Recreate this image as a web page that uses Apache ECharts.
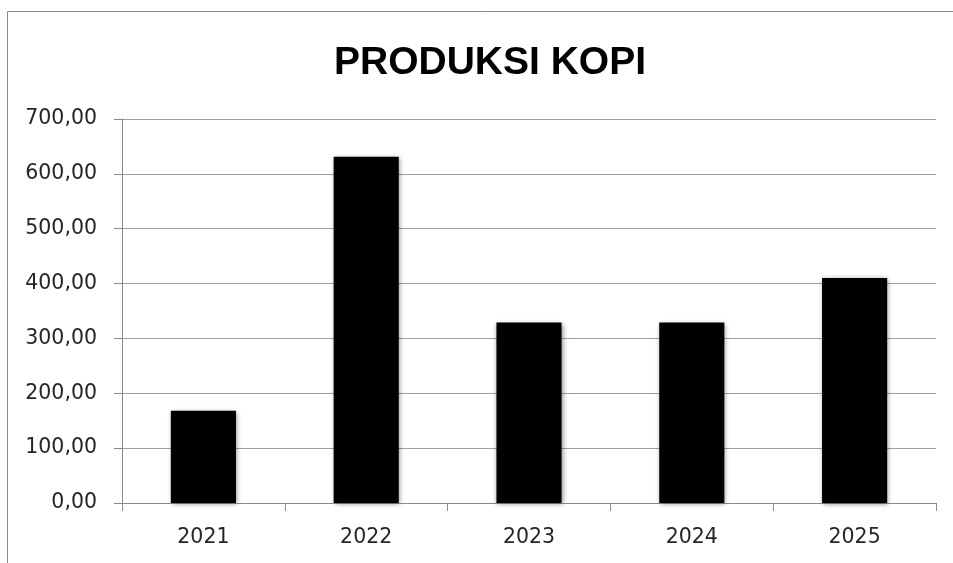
<!DOCTYPE html>
<html>
<head>
<meta charset="utf-8">
<script src="https://cdn.jsdelivr.net/npm/echarts@6/dist/echarts.min.js"></script>
<style>
html,body{margin:0;padding:0;background:#fff;}
#c{width:953px;height:563px;}
</style>
</head>
<body>
<div id="c"></div>
<script>
const categories = ['2021', '2022', '2023', '2024', '2025'];
const produksi = [168, 631, 329, 329, 410];
const yTicks = { min: 0, max: 700, interval: 100 };
const titleText = 'PRODUKSI KOPI';

const chart = echarts.init(document.getElementById('c'), null, { renderer: 'canvas' });
chart.setOption({
  backgroundColor: '#ffffff',
  animation: false,
  graphic: [{
    type: 'rect',
    shape: { x: 7.5, y: 11.5, width: 1200, height: 1200 },
    style: { fill: 'none', stroke: '#8a8a8a', lineWidth: 1 },
    silent: true
  }],
  title: {
    text: titleText,
    left: 485,
    textAlign: 'center',
    top: 39,
    textStyle: { fontFamily: 'Liberation Sans', fontWeight: 'bold', fontSize: 39, color: '#000' }
  },
  grid: { left: 122, right: 17, top: 119, bottom: 60 },
  xAxis: {
    type: 'category',
    data: categories,
    boundaryGap: true,
    axisLine: { lineStyle: { color: '#8a8a8a', width: 1 } },
    axisTick: { show: true, length: 8, alignWithLabel: false, lineStyle: { color: '#8a8a8a' } },
    axisLabel: { margin: 24, fontSize: 20.5, color: '#262626', fontFamily: 'DejaVu Sans' },
    splitLine: { show: false }
  },
  yAxis: {
    type: 'value',
    min: yTicks.min, max: yTicks.max, interval: yTicks.interval,
    axisLine: { show: true, lineStyle: { color: '#8a8a8a', width: 1 } },
    axisTick: { show: true, length: 8, lineStyle: { color: '#8a8a8a' } },
    axisLabel: {
      margin: 25, fontSize: 20.5, color: '#262626', fontFamily: 'DejaVu Sans',
      formatter: v => v.toFixed(2).replace('.', ',')
    },
    splitLine: { show: true, lineStyle: { color: '#a0a0a0', width: 1 } }
  },
  series: [{
    type: 'bar',
    data: produksi,
    barWidth: '40%',
    itemStyle: {
      color: '#000',
      shadowBlur: 5,
      shadowColor: 'rgba(0,0,0,0.45)',
      shadowOffsetX: 1,
      shadowOffsetY: 1
    }
  }]
});
</script>
</body>
</html>
